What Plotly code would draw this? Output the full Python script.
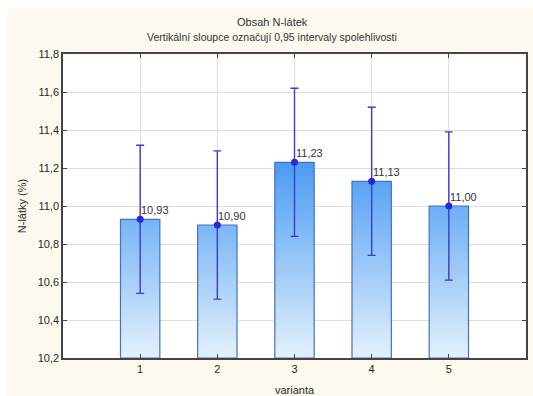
import plotly.graph_objects as go

categories = [1, 2, 3, 4, 5]
means = [10.93, 10.90, 11.23, 11.13, 11.00]
upper = [11.32, 11.29, 11.62, 11.52, 11.39]
lower = [10.54, 10.51, 10.84, 10.74, 10.61]
labels = ["10,93", "10,90", "11,23", "11,13", "11,00"]
y_ticks = [10.2, 10.4, 10.6, 10.8, 11.0, 11.2, 11.4, 11.6, 11.8]
y_base = 10.2

W, H = 533, 396
ml, mr, mt, mb = 63, 7, 53.5, 38
pw, ph = W - ml - mr, H - mt - mb

def px_x(p):
    return (p - ml) / pw

def px_y(p):
    return (H - mb - p) / ph

bar_half = 0.255
bx, by = [], []
for c, m in zip(categories, means):
    bx += [c - bar_half, c - bar_half, c + bar_half, c + bar_half, c - bar_half, None]
    by += [y_base, m, m, y_base, y_base, None]

fig = go.Figure()
fig.add_trace(go.Scatter(
    x=bx, y=by, mode="lines", fill="toself",
    line=dict(color="#4272bd", width=1.2),
    fillgradient=dict(type="vertical",
                      colorscale=[[0, "#e4f1fd"], [1, "#4a9bf3"]],
                      start=y_base, stop=max(means)),
    hoverinfo="skip", showlegend=False,
))
fig.add_trace(go.Scatter(
    x=categories, y=means, mode="markers",
    marker=dict(color="#2a2ad0", size=7),
    error_y=dict(type="data", symmetric=False,
                 array=[u - m for u, m in zip(upper, means)],
                 arrayminus=[m - l for m, l in zip(means, lower)],
                 color="#3a3ad0", thickness=1.4, width=4),
    showlegend=False,
))

annotations = []
for c, m, t in zip(categories, means, labels):
    annotations.append(dict(x=c, y=m, text=t, showarrow=False,
                            xanchor="left", yanchor="bottom", xshift=-1, yshift=1,
                            font=dict(size=11, color="#333333")))
annotations.append(dict(xref="paper", yref="paper", x=px_x(272), y=px_y(21.5),
                        text="Obsah N-látek", showarrow=False, xanchor="center",
                        yanchor="middle", font=dict(size=11, color="#333333")))
annotations.append(dict(xref="paper", yref="paper", x=px_x(272), y=px_y(36),
                        text="Vertikální sloupce označují 0,95 intervaly spolehlivosti",
                        showarrow=False, xanchor="center", yanchor="middle",
                        font=dict(size=10.5, color="#333333")))

shapes = [
    dict(type="rect", xref="paper", yref="paper", layer="below",
         x0=px_x(0), x1=px_x(W), y0=px_y(7), y1=px_y(0),
         fillcolor="white", line=dict(width=0)),
    dict(type="rect", xref="paper", yref="paper", layer="below",
         x0=px_x(0), x1=px_x(7), y0=px_y(H), y1=px_y(0),
         fillcolor="white", line=dict(width=0)),
]

fig.update_layout(
    width=W, height=H,
    margin=dict(l=ml, r=mr, t=mt, b=mb),
    paper_bgcolor="#fdf9ee", plot_bgcolor="white",
    separators=", ",
    font=dict(family="Liberation Sans, Arial, sans-serif", size=11, color="#2a2a2a"),
    annotations=annotations, shapes=shapes,
    showlegend=False,
)
fig.update_xaxes(
    range=[0, 6], tickvals=categories, ticktext=[str(c) for c in categories],
    showgrid=True, gridcolor="#dedede", gridwidth=1,
    showline=True, linecolor="#444444", linewidth=1.5, mirror="ticks",
    ticks="inside", ticklen=4, tickcolor="#444444",
    title=dict(text="varianta", standoff=13, font=dict(size=11)),
    zeroline=False, automargin=False,
)
fig.update_yaxes(
    range=[10.2, 11.8], tickvals=y_ticks, tickformat=".1f",
    showgrid=True, gridcolor="#dedede", gridwidth=1,
    showline=True, linecolor="#444444", linewidth=1.5, mirror="ticks",
    ticks="inside", ticklen=4, tickcolor="#444444",
    title=dict(text="N-látky (%)", standoff=9, font=dict(size=11)),
    zeroline=False, automargin=False,
)

fig.write_html("out.html")
